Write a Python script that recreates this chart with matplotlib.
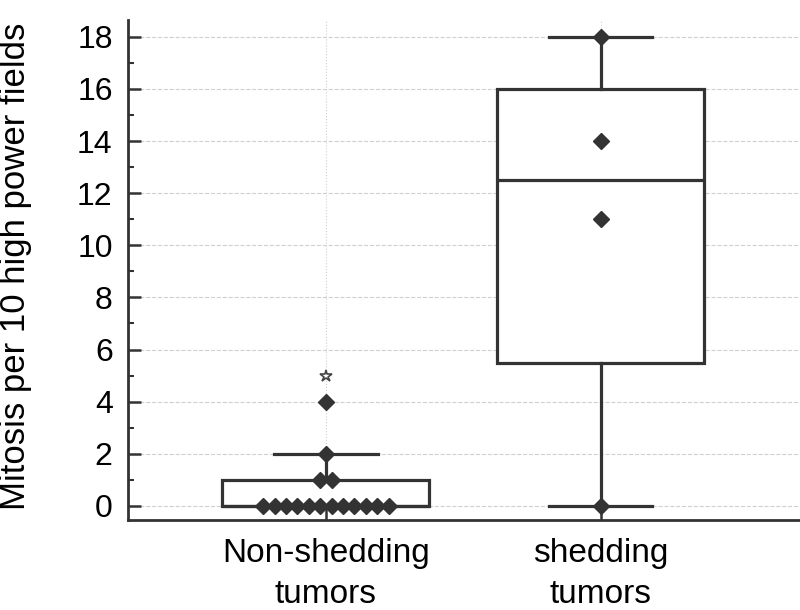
import numpy as np
import matplotlib
matplotlib.use("Agg")
import matplotlib.pyplot as plt
from matplotlib.ticker import MultipleLocator

plt.rcParams['font.family'] = ['Liberation Sans', 'DejaVu Sans']

groups = ['Non-shedding\ntumors', 'shedding\ntumors']

# box statistics per group
q1 = [0, 5.5]
median = [0, 12.5]
q3 = [1, 16]
whisker_low = [0, 0]
whisker_high = [2, 18]

# individual observations drawn as diamonds
points_nonshed = [0, 0, 0, 0, 0, 0, 0, 0, 0, 0, 0, 0, 1, 1, 2, 4]
points_shed = [0, 11, 14, 18]
outlier_nonshed = [5]

dark = '#333333'

fig = plt.figure(figsize=(8, 6.1), dpi=100)
ax = fig.add_axes([0.16, 0.1475, 0.84, 0.82])

stats = []
for i in range(len(groups)):
    stats.append(dict(q1=q1[i], med=median[i], q3=q3[i],
                      whislo=whisker_low[i], whishi=whisker_high[i], fliers=[]))

ax.bxp(stats, positions=[1, 2], widths=0.753, capwidths=0.375,
       showfliers=False, patch_artist=True,
       boxprops=dict(facecolor='white', edgecolor=dark, linewidth=2.3),
       medianprops=dict(color=dark, linewidth=2.3),
       whiskerprops=dict(color=dark, linewidth=2.3),
       capprops=dict(color=dark, linewidth=2.3),
       zorder=2)


def swarm_x(vals, center, step=0.0415):
    vals = np.asarray(vals, dtype=float)
    xs = np.zeros_like(vals)
    for v in np.unique(vals):
        idx = np.where(vals == v)[0]
        n = len(idx)
        xs[idx] = center + (np.arange(n) - (n - 1) / 2) * step
    return xs


ax.plot(swarm_x(points_nonshed, 1), points_nonshed, linestyle='none',
        marker='D', ms=8.5, color=dark, zorder=4)
ax.plot(swarm_x(points_shed, 2), points_shed, linestyle='none',
        marker='D', ms=8.5, color=dark, zorder=4)
ax.plot([1] * len(outlier_nonshed), outlier_nonshed, linestyle='none',
        marker='*', ms=9, markerfacecolor='white', markeredgecolor='#444444',
        markeredgewidth=1.2, zorder=4)

ax.set_xlim(0.28, 2.724)
ax.set_ylim(-0.54, 18.65)
ax.set_xticks([1, 2])
ax.set_xticklabels(groups, fontsize=24, linespacing=1.4)
ax.yaxis.set_major_locator(MultipleLocator(2))
ax.yaxis.set_minor_locator(MultipleLocator(1))
ax.tick_params(axis='y', which='major', direction='in', length=9.5, width=1.8,
               color=dark, labelsize=23, pad=11)
ax.tick_params(axis='y', which='minor', direction='in', length=4.5, width=1.5,
               color=dark)
ax.tick_params(axis='x', direction='in', length=9, width=1.8, color=dark, pad=13)

ax.grid(axis='y', which='major', color='#d0d0d0', linestyle='--', linewidth=0.8, zorder=0)
ax.grid(axis='x', color='#d0d0d0', linestyle=':', linewidth=0.8, zorder=0)
ax.set_axisbelow(True)

for side in ['top', 'right']:
    ax.spines[side].set_visible(False)
for side in ['left', 'bottom']:
    ax.spines[side].set_color(dark)
    ax.spines[side].set_linewidth(2)

ax.set_ylabel('Mitosis per 10 high power fields', fontsize=25)
ax.yaxis.set_label_coords(-0.143, 0.508)

fig.savefig('out.png', dpi=100)
